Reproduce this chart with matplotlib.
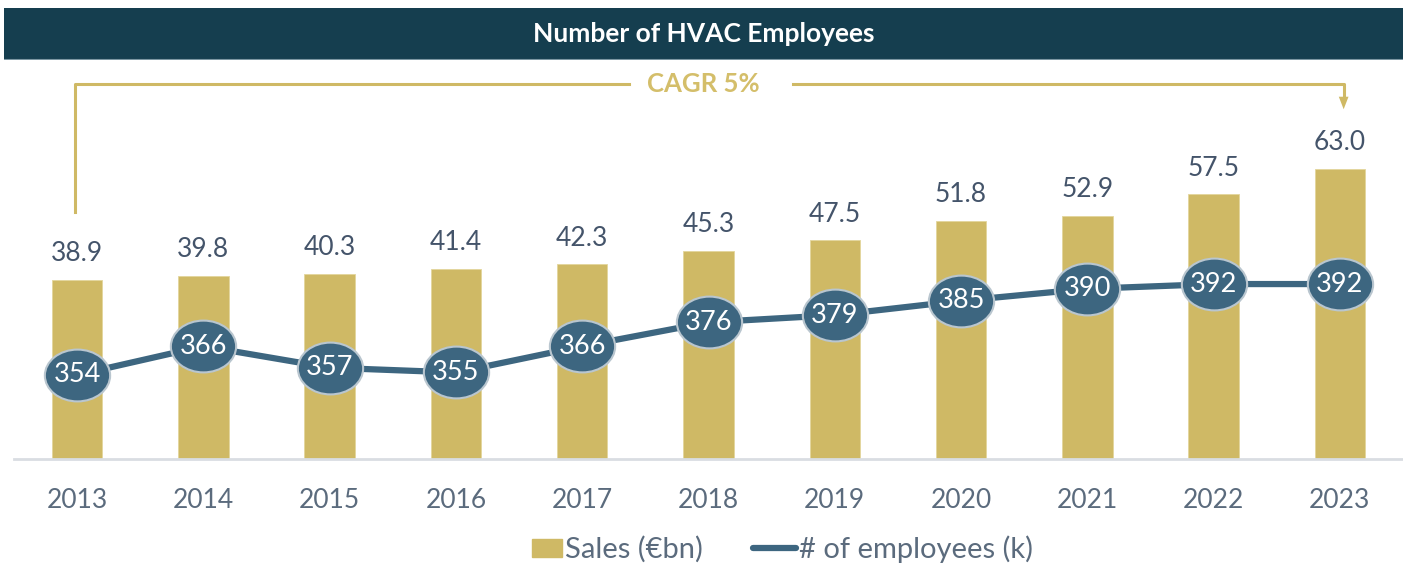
import matplotlib.pyplot as plt
import numpy as np
from matplotlib.path import Path
from matplotlib.transforms import Affine2D
from matplotlib.patches import Rectangle
from matplotlib.lines import Line2D
from matplotlib.legend_handler import HandlerPatch

plt.rcParams['font.family'] = ['Lato', 'DejaVu Sans']

years = ['2013', '2014', '2015', '2016', '2017', '2018', '2019', '2020', '2021', '2022', '2023']
sales = [38.9, 39.8, 40.3, 41.4, 42.3, 45.3, 47.5, 51.8, 52.9, 57.5, 63.0]
employees = [354, 366, 357, 355, 366, 376, 379, 385, 390, 392, 392]

gold = '#CFB965'
navy = '#3D6680'
dark = '#153E4F'
label_col = '#44546A'
tick_col = '#5B6B7D'

W, H = 1403, 566
fig = plt.figure(figsize=(W / 100, H / 100), dpi=100)

# title banner
bar_ax = fig.add_axes([4 / W, 1 - 60 / H, 1 - 4 / W, 52 / H])
bar_ax.set_facecolor(dark)
bar_ax.set_xticks([])
bar_ax.set_yticks([])
for s in bar_ax.spines.values():
    s.set_visible(False)
bar_ax.axhline(0, color='#7C97A3', lw=1.5)
bar_ax.text(0.5, 0.5, 'Number of HVAC Employees', color='white', fontsize=19,
            fontweight='bold', ha='center', va='center', transform=bar_ax.transAxes)

ax = fig.add_axes([14 / W, 1 - 459 / H, 1 - 14 / W, 399 / H])
x = np.arange(len(years))
ax.bar(x, sales, width=0.4, color=gold, edgecolor='#E3D69C', linewidth=0.6, label='Sales (€bn)', zorder=2)
ax.set_xlim(-0.5, 10.5)
ax.set_ylim(0, 399 / 4.6)
for s in ['top', 'right', 'left']:
    ax.spines[s].set_visible(False)
ax.spines['bottom'].set_color('#D9DDE2')
ax.spines['bottom'].set_linewidth(2)
ax.set_yticks([])
ax.set_xticks(x)
ax.set_xticklabels(years, fontsize=19, color=tick_col)
ax.tick_params(axis='x', length=0, pad=21)

for xi, v in zip(x, sales):
    ax.annotate(f'{v:.1f}', (xi, v), xytext=(0, 10), textcoords='offset points',
                ha='center', va='bottom', fontsize=19, color=label_col)

# employees on a secondary scale
ax2 = ax.twinx()
ax2.set_ylim(318.8, 318.8 + 399 / 2.39)
ax2.axis('off')
ellipse = Path.unit_circle().transformed(Affine2D().scale(1.26, 1.0))
ax2.plot(x, employees, color=navy, lw=4.5, marker=ellipse, markersize=47,
         markerfacecolor=navy, markeredgecolor='#B9C6CF', markeredgewidth=1.5, zorder=3)
for xi, v in zip(x, employees):
    ax2.text(xi, v, str(v), ha='center', va='center', fontsize=19.5, color='white', zorder=4)

# CAGR bracket
y_top = (459 - 84) / 4.6
ax.plot([-0.02, -0.02, 4.37], [(459 - 212) / 4.6, y_top, y_top], color=gold, lw=2.2, clip_on=False)
ax.plot([5.67, 10.03, 10.03], [y_top, y_top, (459 - 100) / 4.6], color=gold, lw=2.2, clip_on=False)
ax.annotate('', xy=(10.03, (459 - 112) / 4.6), xytext=(10.03, (459 - 100) / 4.6),
            arrowprops=dict(arrowstyle='-|>,head_width=0.35,head_length=0.9', color=gold, lw=0),
            annotation_clip=False)
ax.text(4.96, y_top, 'CAGR 5%', ha='center', va='center', fontsize=18.5, fontweight='bold', color='#D4BE6A')


def narrow_box(legend, orig_handle, xdescent, ydescent, width, height, fontsize):
    return Rectangle((-xdescent + width * 0.3, -ydescent + height * 0.05), width * 0.7, height * 0.85)


handles = [Rectangle((0, 0), 1, 1, color=gold),
           Line2D([], [], color=navy, lw=4.5, solid_capstyle='round')]
fig.legend(handles, ['Sales (€bn)', '# of employees (k)'], loc='center',
           bbox_to_anchor=(776 / W, 1 - 549 / H), ncol=2, frameon=False,
           fontsize=21, labelcolor=tick_col, handlelength=1.5, handletextpad=0.1,
           columnspacing=1.7, handler_map={Rectangle: HandlerPatch(patch_func=narrow_box)})

fig.savefig('out.png', dpi=100)
